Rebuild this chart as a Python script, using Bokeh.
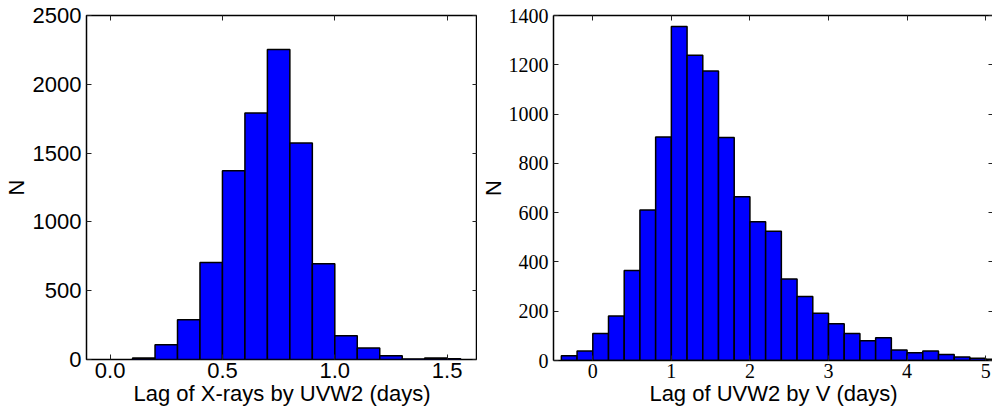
from bokeh.plotting import figure
from bokeh.models import Range1d, LinearAxis, FixedTicker, NumeralTickFormatter, CustomJSTickFormatter
from bokeh.layouts import row
from bokeh.embed import file_html
from bokeh.resources import INLINE

# ---- data: left panel (lag of X-rays by UVW2) ----
xray_edges = [0.1, 0.2, 0.3, 0.4, 0.5, 0.6, 0.7, 0.8, 0.9, 1.0, 1.1, 1.2, 1.3, 1.4, 1.5, 1.56]
xray_counts = [10, 108, 288, 705, 1371, 1791, 2253, 1573, 695, 172, 83, 27, 3, 10, 5]
xray_xticks = [0.0, 0.5, 1.0, 1.5]
xray_yticks = [0, 500, 1000, 1500, 2000, 2500]

# ---- data: right panel (lag of UVW2 by V) ----
uvw2_edges = [-0.4, -0.2, 0.0, 0.2, 0.4, 0.6, 0.8, 1.0, 1.2, 1.4, 1.6, 1.8, 2.0, 2.2, 2.4,
              2.6, 2.8, 3.0, 3.2, 3.4, 3.6, 3.8, 4.0, 4.2, 4.4, 4.6, 4.8, 5.0, 5.2]
uvw2_counts = [19, 39, 110, 181, 365, 611, 907, 1355, 1239, 1175, 905, 665, 563, 525,
               331, 260, 192, 149, 110, 80, 92, 43, 31, 39, 24, 14, 9, 5]
uvw2_xticks = [0, 1, 2, 3, 4, 5]
uvw2_yticks = [0, 200, 400, 600, 800, 1000, 1200, 1400]

SANS = "Liberation Sans"
SERIF = "Liberation Serif"


def tick_only_axis(ticks):
    return LinearAxis(ticker=FixedTicker(ticks=ticks), axis_line_color=None,
                      major_tick_in=5, major_tick_out=0, minor_tick_line_color=None,
                      major_tick_line_color="#222222", major_tick_line_width=1,
                      formatter=CustomJSTickFormatter(code="return ''"),
                      major_label_standoff=0)


def style_main_axis(ax, ticks, font, size, label):
    ax.ticker = FixedTicker(ticks=ticks)
    ax.major_tick_in = 5
    ax.major_tick_out = 0
    ax.minor_tick_line_color = None
    ax.major_tick_line_color = "#222222"
    ax.major_label_text_font = font
    ax.major_label_text_font_size = size
    ax.major_label_text_color = "black"
    ax.axis_label = label
    ax.axis_label_text_font = SANS
    ax.axis_label_text_font_size = "22px"
    ax.axis_label_text_font_style = "normal"
    ax.axis_label_text_color = "black"


# ---------------- left figure ----------------
p1 = figure(output_backend="svg", toolbar_location=None,
            x_range=Range1d(-0.105, 1.635), y_range=Range1d(0, 2500),
            frame_width=391, frame_height=344,
            min_border_left=86, min_border_right=0, min_border_top=15, min_border_bottom=52)
p1.xgrid.visible = False
p1.ygrid.visible = False
p1.outline_line_color = "black"
p1.outline_line_width = 1.5
p1.background_fill_color = "white"
p1.border_fill_color = "white"

p1.quad(left=xray_edges[:-1], right=xray_edges[1:], bottom=0, top=xray_counts,
        fill_color="#0000ff", line_color="black", line_width=1.5)

style_main_axis(p1.xaxis[0], xray_xticks, SANS, "22px", "Lag of X-rays by UVW2 (days)")
p1.xaxis[0].formatter = NumeralTickFormatter(format="0.0")
p1.xaxis[0].major_label_standoff = 3
p1.xaxis[0].axis_label_standoff = 0
p1.xaxis[0].axis_line_color = None
style_main_axis(p1.yaxis[0], xray_yticks, SANS, "22px", "N")
p1.yaxis[0].major_label_standoff = 5
p1.yaxis[0].axis_label_standoff = 1
p1.yaxis[0].axis_line_color = None
p1.add_layout(tick_only_axis(xray_xticks), "above")
p1.add_layout(tick_only_axis(xray_yticks), "right")

# ---------------- right figure ----------------
p2 = figure(output_backend="svg", toolbar_location=None,
            x_range=Range1d(-0.5, 5.1), y_range=Range1d(0, 1400),
            frame_width=440, frame_height=345,
            min_border_left=67, min_border_right=0, min_border_top=15, min_border_bottom=51)
p2.xgrid.visible = False
p2.ygrid.visible = False
p2.outline_line_color = None
p2.background_fill_color = "white"
p2.border_fill_color = "white"

p2.quad(left=uvw2_edges[:-1], right=uvw2_edges[1:], bottom=0, top=uvw2_counts,
        fill_color="#0000ff", line_color="black", line_width=1.5)

style_main_axis(p2.xaxis[0], uvw2_xticks, SERIF, "20px", "Lag of UVW2 by V (days)")
p2.xaxis[0].major_label_standoff = 3
p2.xaxis[0].axis_label_standoff = 0
p2.xaxis[0].axis_line_color = "black"
p2.xaxis[0].axis_line_width = 1.5
style_main_axis(p2.yaxis[0], uvw2_yticks, SERIF, "20px", "N")
p2.yaxis[0].major_label_standoff = 5
p2.yaxis[0].axis_label_standoff = 0
p2.yaxis[0].axis_line_color = "black"
p2.yaxis[0].axis_line_width = 1.5
top2 = tick_only_axis(uvw2_xticks)
top2.axis_line_color = "black"
top2.axis_line_width = 1.5
p2.add_layout(top2, "above")
p2.add_layout(tick_only_axis(uvw2_yticks), "right")

layout = row(p1, p2)
open("out.html", "w").write(file_html(layout, INLINE))
